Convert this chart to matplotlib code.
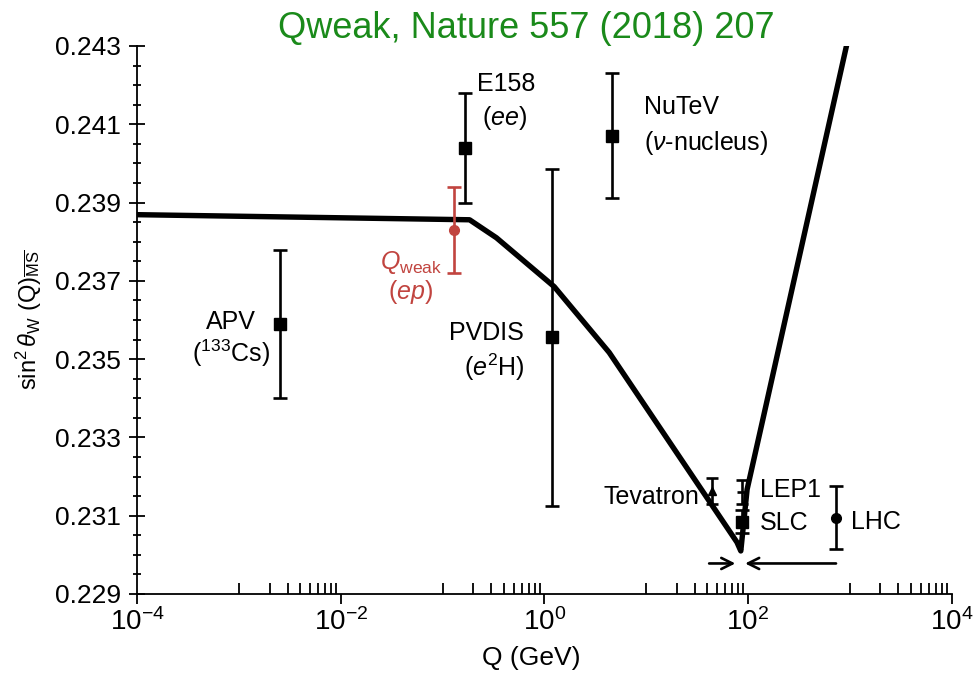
import numpy as np
import matplotlib.pyplot as plt
from matplotlib.ticker import FixedLocator, FixedFormatter

plt.rcParams['font.family'] = ['Liberation Sans', 'DejaVu Sans']
plt.rcParams['mathtext.fontset'] = 'custom'
plt.rcParams['mathtext.rm'] = 'Liberation Sans'
plt.rcParams['mathtext.it'] = 'Liberation Sans:italic'
plt.rcParams['mathtext.bf'] = 'Liberation Sans:bold'

# Running of sin^2 theta_W
curve_q = [1e-4, 0.184, 0.338, 1.25, 4.33, 78, 85, 98, 140, 933, 1020]
curve_s2w = [0.23869, 0.23856, 0.2381, 0.23685, 0.23517, 0.23032, 0.2301,
             0.23167, 0.23346, 0.24303, 0.2435]

# Measurements (black)
exp_names = ["APV", "E158", "PVDIS", "NuTeV", "SLC", "LHC"]
exp_q = [0.0025, 0.165, 1.2, 4.6, 88, 730]
exp_s2w = [0.2359, 0.2404, 0.23556, 0.24071, 0.23085, 0.23095]
exp_err = [0.0019, 0.0014, 0.0043, 0.0016, 0.0003, 0.0008]
exp_marker = ["s", "s", "s", "s", "s", "o"]

tev_q, tev_s2w, tev_err = 44, 0.23164, 0.00033
lep_q, lep_s2w, lep_err = 88, 0.23161, 0.0003

# Qweak (red)
qw_q, qw_s2w, qw_err = 0.13, 0.2383, 0.0011

red = "#c1443f"

fig = plt.figure(figsize=(9.8, 6.74), dpi=100)
ax = fig.add_axes([0.140, 0.1187, 0.831, 0.8131])

ax.plot(curve_q, curve_s2w, color="black", lw=3.9, solid_joinstyle="round", zorder=2)

for q, s, e, m in zip(exp_q, exp_s2w, exp_err, exp_marker):
    ax.errorbar(q, s, yerr=e, fmt=m, color="black", ms=9 if m == "s" else 7,
                elinewidth=1.9, capsize=5, capthick=1.9, zorder=3)
ax.errorbar(tev_q, tev_s2w, yerr=tev_err, fmt="^", color="black", ms=6,
            elinewidth=1.9, capsize=4, capthick=1.9, zorder=3)
ax.errorbar(lep_q, lep_s2w, yerr=lep_err, fmt="_", color="black", ms=7,
            mew=1.9, elinewidth=1.9, capsize=4, capthick=1.9, zorder=3)
ax.errorbar(qw_q, qw_s2w, yerr=qw_err, fmt="o", color=red, ms=7,
            elinewidth=1.9, capsize=5, capthick=1.9, zorder=3)

# arrows near the Z pole
ax.annotate("", xy=(80, 0.22978), xytext=(39, 0.22978),
            arrowprops=dict(arrowstyle="->", lw=1.9, color="black", mutation_scale=20))
ax.annotate("", xy=(88, 0.22978), xytext=(780, 0.22978),
            arrowprops=dict(arrowstyle="->", lw=1.9, color="black", mutation_scale=20))

fs = 18
ax.text(8.3e-4, 0.23594, "APV", ha="center", va="center", fontsize=fs)
ax.text(8.3e-4, 0.23514, r"($^{133}$Cs)", ha="center", va="center", fontsize=fs)
ax.text(0.22, 0.24203, "E158", ha="left", va="center", fontsize=fs)
ax.text(0.41, 0.24116, r"($ee$)", ha="center", va="center", fontsize=fs)
ax.text(9.5, 0.24144, "NuTeV", ha="left", va="center", fontsize=fs)
ax.text(9.5, 0.24053, r"($\nu$-nucleus)", ha="left", va="center", fontsize=fs)
ax.text(0.27, 0.23568, "PVDIS", ha="center", va="center", fontsize=fs)
ax.text(0.32, 0.23479, r"($e^2$H)", ha="center", va="center", fontsize=fs)
ax.text(0.049, 0.23746, r"$Q_{\rm weak}$", ha="center", va="center", fontsize=fs, color=red)
ax.text(0.048, 0.23672, r"($ep$)", ha="center", va="center", fontsize=fs, color=red)
ax.text(33, 0.23149, "Tevatron", ha="right", va="center", fontsize=fs)
ax.text(131, 0.23165, "LEP1", ha="left", va="center", fontsize=fs)
ax.text(131, 0.23081, "SLC", ha="left", va="center", fontsize=fs)
ax.text(1020, 0.23083, "LHC", ha="left", va="center", fontsize=fs)

ax.set_xscale("log")
ax.set_xlim(1e-4, 1e4)
ax.set_ylim(0.229, 0.243)

major_x = [1e-4, 1e-2, 1, 1e2, 1e4]
ax.xaxis.set_major_locator(FixedLocator(major_x))
ax.xaxis.set_major_formatter(FixedFormatter([r"$10^{-4}$", r"$10^{-2}$", r"$10^{0}$",
                                             r"$10^{2}$", r"$10^{4}$"]))
minor_x = [k * 10.0 ** d for d in (-3, -1, 1, 3) for k in range(1, 10)]
ax.xaxis.set_minor_locator(FixedLocator(minor_x))
ax.xaxis.set_minor_formatter(FixedFormatter([]))
ax.tick_params(axis="x", which="major", direction="out", length=7, width=1.3,
               labelsize=20, pad=3)
ax.tick_params(axis="x", which="minor", direction="in", length=8, width=1.3)

ax.yaxis.set_major_locator(FixedLocator(np.arange(0.229, 0.2431, 0.002)))
ax.yaxis.set_minor_locator(FixedLocator(np.arange(0.229, 0.2431, 0.0005)))
ax.yaxis.set_major_formatter(plt.FuncFormatter(lambda v, p: "%.3f" % v))
ax.tick_params(axis="y", which="major", direction="inout", length=11, width=1.3,
               labelsize=19, pad=6)
ax.tick_params(axis="y", which="minor", direction="inout", length=6, width=1.3)

for side in ("top", "right"):
    ax.spines[side].set_visible(False)
for side in ("left", "bottom"):
    ax.spines[side].set_linewidth(1.3)

ax.set_xlabel("Q (GeV)", fontsize=19)
ax.xaxis.set_label_coords((531 - 137) / 815, -0.095)
ax.set_ylabel(r"$\sin^2\theta_{\rm W}\ ({\rm Q})_{\overline{\rm MS}}$", fontsize=17)
ax.yaxis.set_label_coords(-0.115, 0.5)

fig.text(0.537, 0.958, "Qweak, Nature 557 (2018) 207", ha="center", va="center",
         fontsize=26, color="#1a8a1a")

fig.savefig("out.png", dpi=100)
